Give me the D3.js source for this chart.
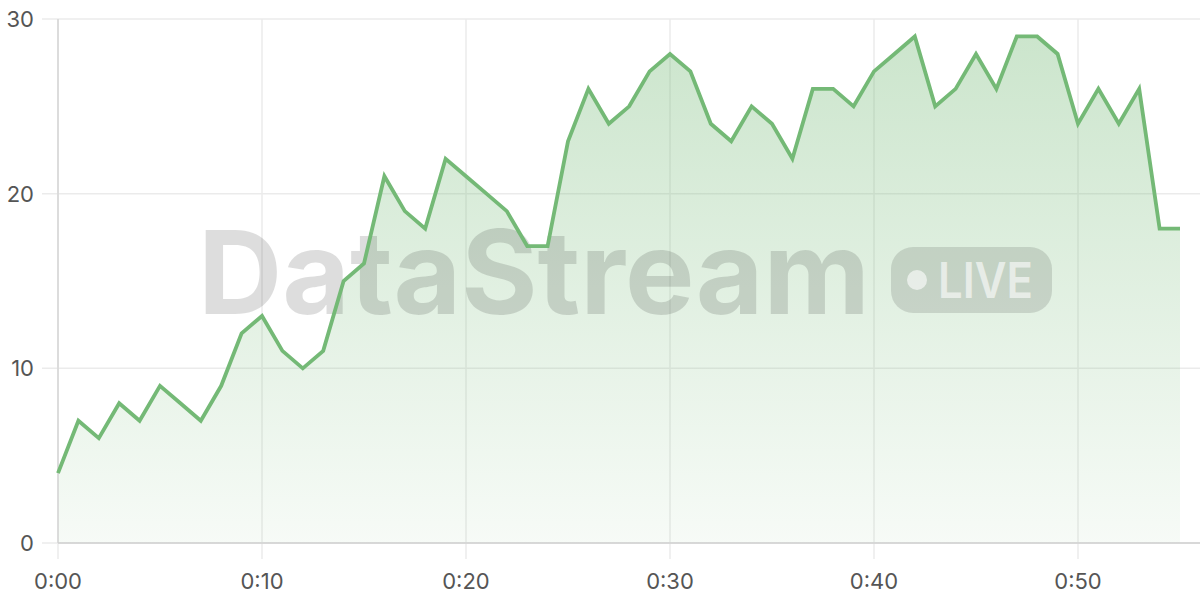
<!DOCTYPE html>
<html>
<head>
<meta charset="utf-8">
<script src="https://cdn.jsdelivr.net/npm/d3@7/dist/d3.min.js"></script>
<style>
  html, body { margin: 0; padding: 0; background: #fff; }
  svg { display: block; font-family: Inter, "Open Sans", sans-serif; }
</style>
</head>
<body>
<svg id="chart" width="1200" height="600"></svg>
<script>
// minutes since start
var minutes = d3.range(0, 56);
var values = [4, 7, 6, 8, 7, 9, 8, 7, 9, 12,
              13, 11, 10, 11, 15, 16, 21, 19, 18, 22,
              21, 20, 19, 17, 17, 23, 26, 24, 25, 27,
              28, 27, 24, 23, 25, 24, 22, 26, 26, 25,
              27, 28, 29, 25, 26, 28, 26, 29, 29, 28,
              24, 26, 24, 26, 18, 18];
var xTicks = [0, 10, 20, 30, 40, 50];
var yTicks = [0, 10, 20, 30];

(function() {
    var svg = d3.select('#chart');
    var left = 58, right = 1180, plotTop = 19, bottom = 543, edge = 1200;

    var x = d3.scaleLinear().domain([0, 55]).range([left, right]);
    var y = d3.scaleLinear().domain([0, 30]).range([bottom, plotTop]);

    function fmt(m) { return Math.floor(m / 60) + ':' + d3.format('02d')(m % 60); }

    var data = minutes.map(function(m, i) { return {m: m, v: values[i]}; });

    // gradient
    var grad = svg.append('defs').append('linearGradient').attr('id', 'fillGrad')
        .attr('gradientUnits', 'userSpaceOnUse')
        .attr('x1', 0).attr('x2', 0).attr('y1', plotTop).attr('y2', bottom);
    grad.append('stop').attr('offset', '0%').attr('stop-color', '#74b976').attr('stop-opacity', 0.38);
    grad.append('stop').attr('offset', '100%').attr('stop-color', '#74b976').attr('stop-opacity', 0.06);

    // grid lines
    svg.append('g').selectAll('line').data(yTicks).enter().append('line')
        .attr('x1', left - 16).attr('x2', edge)
        .attr('y1', function(d) { return y(d); }).attr('y2', function(d) { return y(d); })
        .attr('stroke', '#ebebeb').attr('stroke-width', 1.5);

    svg.append('g').selectAll('line').data(xTicks).enter().append('line')
        .attr('x1', function(d) { return x(d); }).attr('x2', function(d) { return x(d); })
        .attr('y1', plotTop).attr('y2', bottom + 16)
        .attr('stroke', '#ebebeb').attr('stroke-width', 1.5);

    // area
    var area = d3.area().x(function(d) { return x(d.m); })
        .y0(y(0)).y1(function(d) { return y(d.v); });
    svg.append('path').datum(data).attr('d', area).attr('fill', 'url(#fillGrad)');

    // watermark
    var wm = svg.append('g');
    wm.append('text').attr('x', 198).attr('y', 314)
        .attr('font-size', 116).attr('font-weight', 700)
        .attr('textLength', 672).attr('lengthAdjust', 'spacingAndGlyphs')
        .attr('fill', 'rgba(0,0,0,0.135)')
        .text('DataStream');
    wm.append('rect').attr('x', 891).attr('y', 247).attr('width', 161).attr('height', 66)
        .attr('rx', 22).attr('fill', 'rgba(0,0,0,0.12)');
    wm.append('circle').attr('cx', 917).attr('cy', 280).attr('r', 10)
        .attr('fill', 'rgba(255,255,255,0.6)');
    wm.append('text').attr('x', 938).attr('y', 298)
        .attr('font-size', 50).attr('font-weight', 600)
        .attr('textLength', 95).attr('lengthAdjust', 'spacingAndGlyphs')
        .attr('fill', 'rgba(255,255,255,0.6)')
        .text('LIVE');

    // axis lines
    svg.append('line').attr('x1', left).attr('x2', left).attr('y1', plotTop).attr('y2', bottom)
        .attr('stroke', '#d6d6d6').attr('stroke-width', 1.5);
    svg.append('line').attr('x1', left).attr('x2', edge).attr('y1', bottom).attr('y2', bottom)
        .attr('stroke', '#d0d0d0').attr('stroke-width', 1.5);

    // line
    var line = d3.line().x(function(d) { return x(d.m); }).y(function(d) { return y(d.v); });
    svg.append('path').datum(data).attr('d', line)
        .attr('fill', 'none').attr('stroke', '#74b976').attr('stroke-width', 3.8);

    // tick labels
    svg.append('g').selectAll('text').data(yTicks).enter().append('text')
        .attr('x', 34).attr('y', function(d) { return y(d) + 8; })
        .attr('text-anchor', 'end').attr('font-size', 22).attr('fill', '#555')
        .text(function(d) { return d; });

    svg.append('g').selectAll('text').data(xTicks).enter().append('text')
        .attr('x', function(d) { return x(d); }).attr('y', 589)
        .attr('text-anchor', 'middle').attr('font-size', 22).attr('fill', '#555')
        .text(function(d) { return fmt(d); });
})();
</script>
</body>
</html>
